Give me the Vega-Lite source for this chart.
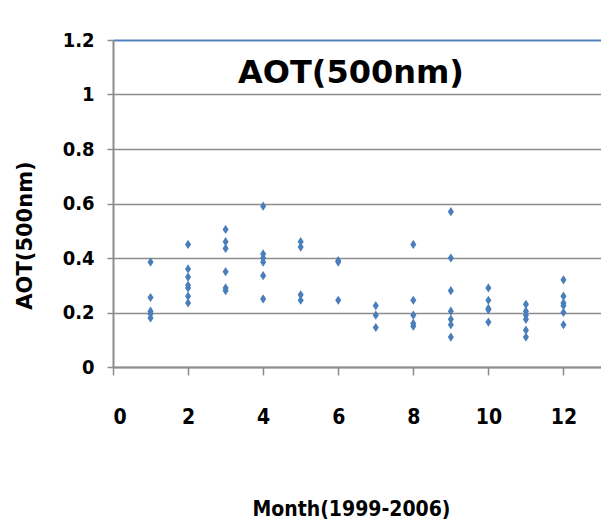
{
  "$schema": "https://vega.github.io/schema/vega-lite/v6.json",
  "autosize": "none",
  "width": 488,
  "height": 327,
  "padding": {"left": 113, "top": 40, "right": 0, "bottom": 156},
  "background": "white",
  "config": {
    "view": {"stroke": null},
    "axis": {"domainColor": "#8c8c8c", "tickColor": "#8c8c8c"}
  },
  "datasets": {
    "aot": [
      {"month": 1, "aot": 0.385}, {"month": 1, "aot": 0.255}, {"month": 1, "aot": 0.205}, {"month": 1, "aot": 0.195}, {"month": 1, "aot": 0.18},
      {"month": 2, "aot": 0.45}, {"month": 2, "aot": 0.36}, {"month": 2, "aot": 0.33}, {"month": 2, "aot": 0.3}, {"month": 2, "aot": 0.29}, {"month": 2, "aot": 0.26}, {"month": 2, "aot": 0.235},
      {"month": 3, "aot": 0.505}, {"month": 3, "aot": 0.46}, {"month": 3, "aot": 0.435}, {"month": 3, "aot": 0.35}, {"month": 3, "aot": 0.29}, {"month": 3, "aot": 0.28},
      {"month": 4, "aot": 0.59}, {"month": 4, "aot": 0.415}, {"month": 4, "aot": 0.4}, {"month": 4, "aot": 0.385}, {"month": 4, "aot": 0.335}, {"month": 4, "aot": 0.25},
      {"month": 5, "aot": 0.46}, {"month": 5, "aot": 0.44}, {"month": 5, "aot": 0.265}, {"month": 5, "aot": 0.245},
      {"month": 6, "aot": 0.39}, {"month": 6, "aot": 0.385}, {"month": 6, "aot": 0.245},
      {"month": 7, "aot": 0.225}, {"month": 7, "aot": 0.19}, {"month": 7, "aot": 0.145},
      {"month": 8, "aot": 0.45}, {"month": 8, "aot": 0.245}, {"month": 8, "aot": 0.19}, {"month": 8, "aot": 0.16}, {"month": 8, "aot": 0.15},
      {"month": 9, "aot": 0.57}, {"month": 9, "aot": 0.4}, {"month": 9, "aot": 0.28}, {"month": 9, "aot": 0.205}, {"month": 9, "aot": 0.175}, {"month": 9, "aot": 0.155}, {"month": 9, "aot": 0.11},
      {"month": 10, "aot": 0.29}, {"month": 10, "aot": 0.245}, {"month": 10, "aot": 0.215}, {"month": 10, "aot": 0.21}, {"month": 10, "aot": 0.165},
      {"month": 11, "aot": 0.23}, {"month": 11, "aot": 0.205}, {"month": 11, "aot": 0.19}, {"month": 11, "aot": 0.175}, {"month": 11, "aot": 0.135}, {"month": 11, "aot": 0.11},
      {"month": 12, "aot": 0.32}, {"month": 12, "aot": 0.26}, {"month": 12, "aot": 0.235}, {"month": 12, "aot": 0.225}, {"month": 12, "aot": 0.2}, {"month": 12, "aot": 0.155}
    ],
    "heading": [
      {"label": "AOT(500nm)", "month": 6.34, "aot": 1.042}
    ]
  },
  "layer": [
    {
      "data": {"name": "aot"},
      "mark": {
        "type": "point",
        "shape": "M0,-1L0.66,0L0,1L-0.66,0Z",
        "size": 85,
        "filled": true,
        "opacity": 1,
        "color": "#4a7ebb"
      },
      "encoding": {
        "x": {
          "field": "month",
          "type": "quantitative",
          "scale": {"domain": [0, 13], "nice": false, "zero": false},
          "axis": {
            "values": [0, 2, 4, 6, 8, 10, 12],
            "grid": false,
            "domainWidth": 2,
            "tickWidth": 1.5,
            "tickSize": 8,
            "labelFont": "DejaVu Sans Condensed, Roboto Condensed, sans-serif",
            "labelFontWeight": "bold",
            "labelFontSize": 21,
            "labelColor": "#000000",
            "labelPadding": 31,
            "title": "Month(1999-2006)",
            "titleFont": "DejaVu Sans Condensed, Roboto Condensed, sans-serif",
            "titleFontWeight": "bold",
            "titleFontSize": 21,
            "titleColor": "#000000",
            "titleBaseline": "alphabetic",
            "titleX": 238,
            "titleY": 148
          }
        },
        "y": {
          "field": "aot",
          "type": "quantitative",
          "scale": {"domain": [0, 1.2], "nice": false},
          "axis": {
            "values": [0, 0.2, 0.4, 0.6, 0.8, 1, 1.2],
            "format": "~g",
            "grid": true,
            "gridColor": {"condition": {"test": "datum.value > 1.19", "value": "#4f81bd"}, "value": "#8c8c8c"},
            "gridWidth": {"condition": {"test": "datum.value > 1.19", "value": 2}, "value": 1.5},
            "domainWidth": 2,
            "tickWidth": 1.5,
            "tickSize": 6,
            "labelFont": "DejaVu Sans Condensed, Roboto Condensed, sans-serif",
            "labelFontWeight": "bold",
            "labelFontSize": 20,
            "labelColor": "#000000",
            "labelPadding": 13,
            "title": "AOT(500nm)",
            "titleFont": "DejaVu Sans",
            "titleFontWeight": "bold",
            "titleFontSize": 21,
            "titleColor": "#000000",
            "titleAngle": -90,
            "titleBaseline": "middle",
            "titleX": -88,
            "titleY": 195
          }
        }
      }
    },
    {
      "data": {"name": "heading"},
      "mark": {
        "type": "text",
        "font": "DejaVu Sans",
        "fontSize": 32,
        "fontWeight": "bold",
        "color": "#000000",
        "align": "center",
        "baseline": "alphabetic"
      },
      "encoding": {
        "x": {"field": "month", "type": "quantitative"},
        "y": {"field": "aot", "type": "quantitative"},
        "text": {"field": "label"}
      }
    }
  ]
}
